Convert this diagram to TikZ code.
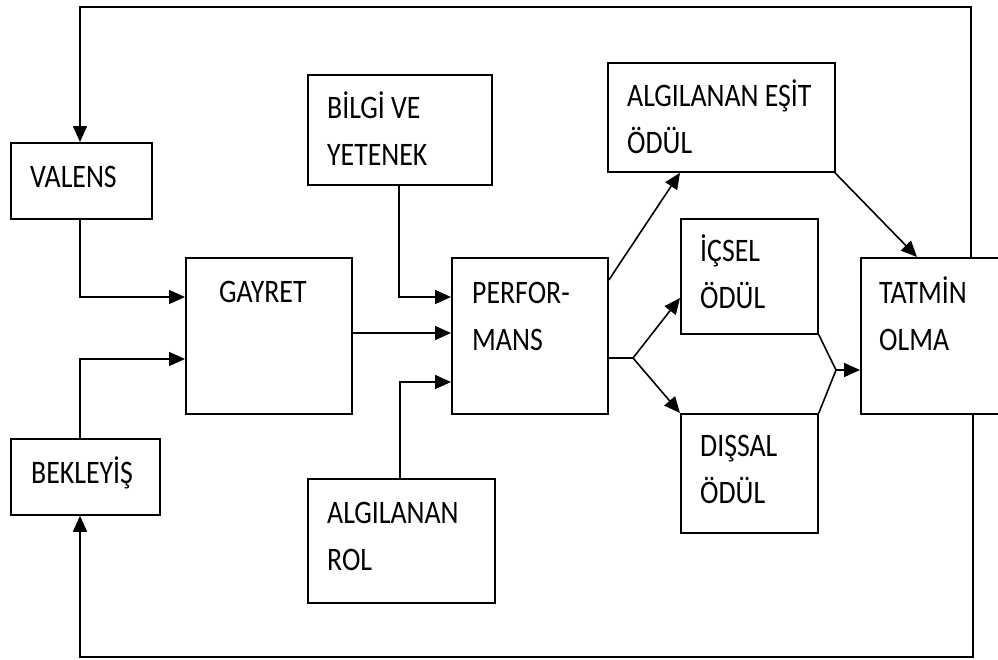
\documentclass[tikz,border=0pt]{standalone}
\usepackage{fontspec}
\setmainfont{Carlito}
\usepackage{graphicx}
\usetikzlibrary{arrows.meta,calc}
\newcommand\vs[1]{\scalebox{1}[1.18]{#1}}
\begin{document}
\begin{tikzpicture}[x=1pt,y=-1pt,
  box/.style={draw, line width=1.8pt, inner sep=0pt, anchor=north west},
  lbl/.style={anchor=base west, inner sep=0pt, text width=220pt, align=left,
              font=\fontsize{27.8pt}{47pt}\selectfont},
  con/.style={line width=1.6pt},
  arr/.style={con, -{Triangle[length=16pt,width=14pt]}}
]
\clip (0,0) rectangle (998,659);
\fill[white] (0,0) rectangle (998,659);

% boxes
\node[box, minimum width=141pt, minimum height=76pt]  (valens)   at (10,142) {};
\node[box, minimum width=149pt, minimum height=76pt]  (bekleyis) at (10,438) {};
\node[box, minimum width=166pt, minimum height=156pt] (gayret)   at (185,257) {};
\node[box, minimum width=184pt, minimum height=110pt] (bilgi)    at (307,74) {};
\node[box, minimum width=156pt, minimum height=156pt] (perf)     at (451,257) {};
\node[box, minimum width=187pt, minimum height=124pt] (rol)      at (307,478) {};
\node[box, minimum width=227pt, minimum height=109pt] (esit)     at (607,62) {};
\node[box, minimum width=137pt, minimum height=115pt] (icsel)    at (680,218) {};
\node[box, minimum width=137pt, minimum height=119pt] (dissal)   at (680,413) {};
\node[box, minimum width=160pt, minimum height=156pt] (tatmin)   at (860,257) {};

% labels
\node[lbl] (valensT)   at (30,187)  {\vs{VALENS}};
\node[lbl] (bekleyisT) at (31,483)  {\vs{BEKLEYİŞ}};
\node[lbl] (gayretT)   at (219,302) {\vs{GAYRET}};
\node[lbl] (bilgiT)    at (327,118) {\vs{BİLGİ\hspace{0.22em}VE}\\\vs{YETENEK}};
\node[lbl] (perfT)     at (472,303) {\vs{PERFOR-}\\\vs{MANS}};
\node[lbl] (rolT)      at (327,523) {\vs{ALGILANAN}\\\vs{ROL}};
\node[lbl] (esitT)     at (627,106) {\vs{ALGILANAN\hspace{0.22em}EŞİT}\\\vs{ÖDÜL}};
\node[lbl] (icselT)    at (700,261) {\vs{İÇSEL}\\\vs{ÖDÜL}};
\node[lbl] (dissalT)   at (700,456) {\vs{DIŞSAL}\\\vs{ÖDÜL}};
\node[lbl] (tatminT)   at (879,303) {\vs{TATMİN}\\\vs{OLMA}};

% helper coordinates
\coordinate (tl) at (80,7);
\coordinate (tr) at (971,7);
\coordinate (bl) at (80,657);
\coordinate (br) at (973,657);
\coordinate (vg) at (80,297);
\coordinate (bg) at (80,359);
\coordinate (gp) at (351,333);
\coordinate (bp) at (399,297);
\coordinate (rp) at (400,382);
\coordinate (pe) at (607,280);
\coordinate (ee) at (680,171);
\coordinate (fork) at (633,358);
\coordinate (ic) at (680,298);
\coordinate (eo) at (835,171);
\coordinate (to) at (917,257);
\coordinate (join) at (836,370);

% feedback loops
\draw[arr] (tatmin.north -| tr) -- (tr) -- (tl) -- (valens.north -| tl);
\draw[arr] (tatmin.south -| br) -- (br) -- (bl) -- (bekleyis.south -| bl);

% inputs to GAYRET
\draw[arr] (valens.south -| vg) -- (vg) -- (gayret.west |- vg);
\draw[arr] (bekleyis.north -| bg) -- (bg) -- (gayret.west |- bg);

% inputs to PERFORMANS
\draw[arr] (gayret.east |- gp) -- (perf.west |- gp);
\draw[arr] (bilgi.south -| bp) -- (bp) -- (perf.west |- bp);
\draw[arr] (rol.north -| rp) -- (rp) -- (perf.west |- rp);

% outputs of PERFORMANS
\draw[arr] (perf.east |- pe) -- (esit.south -| ee);
\draw[con] (perf.east |- fork) -- (fork);
\draw[arr] (fork) -- (icsel.west |- ic);
\draw[arr] (fork) -- (dissal.north west);

% to TATMIN
\draw[arr] (esit.south -| eo) -- (tatmin.north -| to);
\draw[con] (icsel.south east) -- (join) -- (dissal.north east);
\draw[arr] (join) -- (tatmin.west |- join);
\end{tikzpicture}
\end{document}
